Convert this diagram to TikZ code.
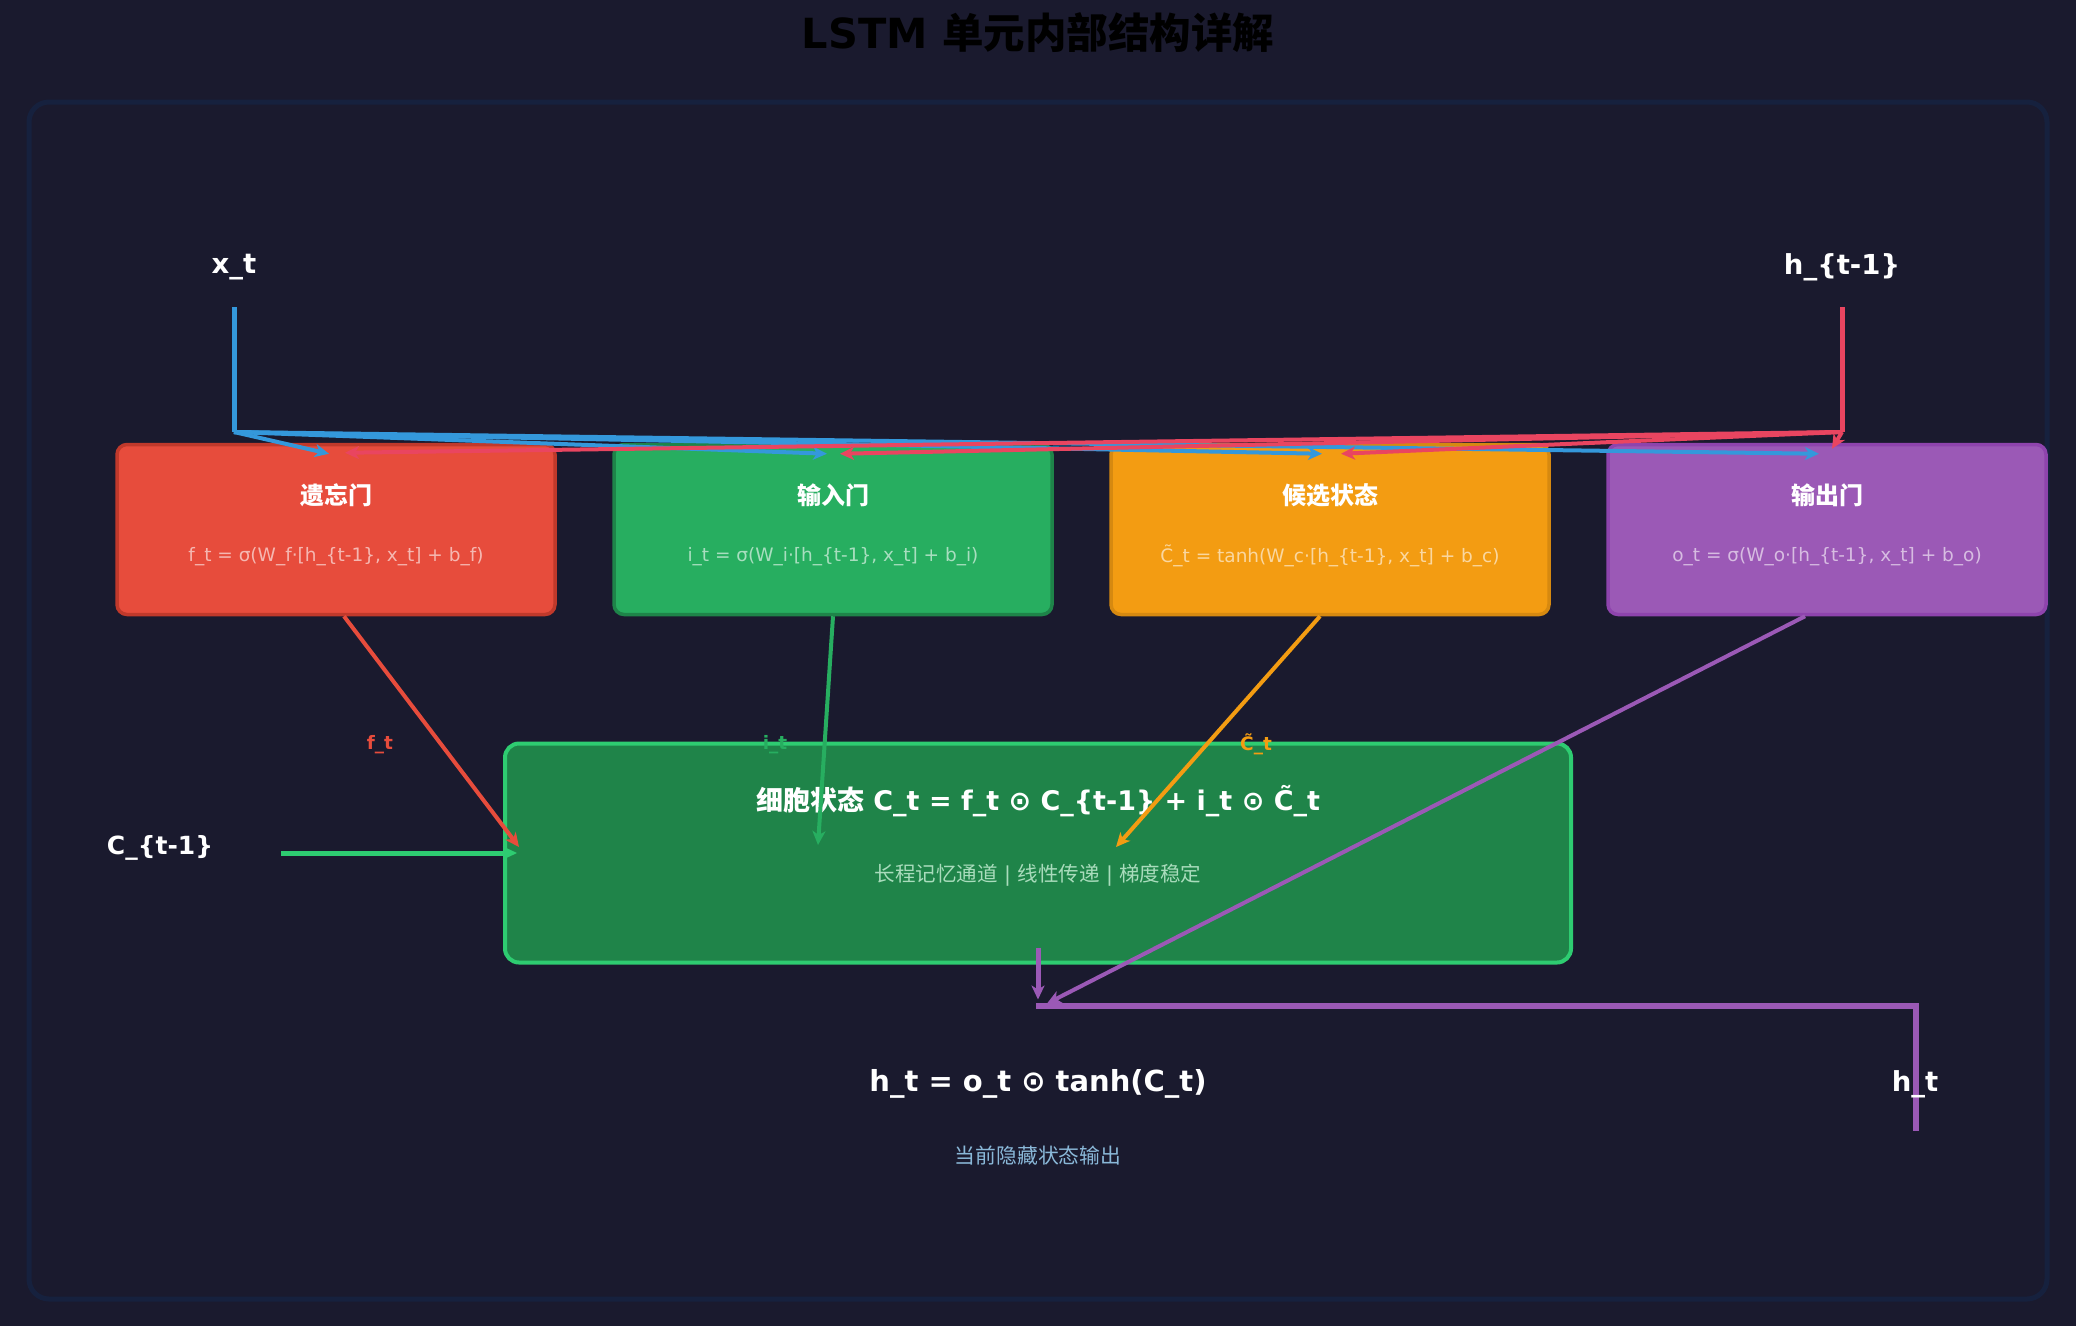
\documentclass[tikz,border=0pt]{standalone}
\usepackage{fontspec}
\setmainfont{DejaVu Sans}
\newfontfamily\cjk{Noto Sans CJK SC}
\usetikzlibrary{arrows.meta,calc}
\definecolor{bgc}{HTML}{1A1A2E}
\definecolor{framec}{HTML}{16213E}
\definecolor{xblue}{HTML}{3498DB}
\definecolor{hred}{HTML}{E94560}
\definecolor{fgfill}{HTML}{E74C3C}
\definecolor{fgline}{HTML}{C0392B}
\definecolor{igfill}{HTML}{27AE60}
\definecolor{igline}{HTML}{1E8449}
\definecolor{cgfill}{HTML}{F39C12}
\definecolor{cgline}{HTML}{D68910}
\definecolor{ogfill}{HTML}{9B59B6}
\definecolor{ogline}{HTML}{8E44AD}
\definecolor{cellfill}{HTML}{1F8449}
\definecolor{cellline}{HTML}{2ECC71}
\definecolor{cellsub}{HTML}{A9DCBC}
\definecolor{hsub}{HTML}{8AB8D8}
\tikzset{
  framebox/.style={draw=framec, line width=5pt, rounded corners=20pt},
  gatebox/.style={rectangle, rounded corners=10pt, line width=3.5pt, minimum width=438pt, minimum height=170pt, inner sep=0pt},
  cellbox/.style={rectangle, rounded corners=14pt, line width=4pt, fill=cellfill, draw=cellline, minimum width=1066pt, minimum height=219pt, inner sep=0pt},
  gtitle/.style={text=white, font=\fontsize{24}{28}\selectfont\bfseries\cjk, inner sep=0pt},
  gform/.style={text=white, text opacity=0.6, font=\fontsize{18.5}{22}\selectfont, inner sep=0pt},
  biglabel/.style={text=white, font=\fontsize{27.5}{32}\selectfont\bfseries, inner sep=0pt},
  smalllabel/.style={font=\fontsize{18.5}{22}\selectfont\bfseries, inner sep=0pt},
  tip/.style={-{Stealth[length=14pt,width=13pt,inset=4pt]}},
  distline/.style={line width=4pt, tip},
  gateout/.style={line width=4pt, tip},
}
\begin{document}
\begin{tikzpicture}[x=1pt,y=-1pt]
\useasboundingbox (0,0) rectangle (2076,1326);
\fill[bgc] (0,0) rectangle (2076,1326);
\draw[framebox] (29,102) rectangle (2047,1299);

\node[font=\fontsize{41.5}{48}\selectfont\bfseries, text=black, inner sep=0pt] (title) at (1038,33) {LSTM {\cjk 单元内部结构详解}};

% gates
\node[gatebox, fill=fgfill, draw=fgline] (fg) at (336,529.5) {};
\node[gatebox, fill=igfill, draw=igline] (ig) at (833,529.5) {};
\node[gatebox, fill=cgfill, draw=cgline] (cg) at (1330,529.5) {};
\node[gatebox, fill=ogfill, draw=ogline] (og) at (1827,529.5) {};
\node[gtitle] (fgt) at (336,495) {遗忘门};
\node[gtitle] (igt) at (833,495) {输入门};
\node[gtitle] (cgt) at (1330,495) {候选状态};
\node[gtitle] (ogt) at (1827,495) {输出门};
\node[gform] (fgf) at (336,557) {f\_t = σ(W\_f·[h\_\{t-1\}, x\_t] + b\_f)};
\node[gform] (igf) at (833,557) {i\_t = σ(W\_i·[h\_\{t-1\}, x\_t] + b\_i)};
\node[gform] (cgf) at (1330,556) {C̃\_t = tanh(W\_c·[h\_\{t-1\}, x\_t] + b\_c)};
\node[gform] (ogf) at (1827,557) {o\_t = σ(W\_o·[h\_\{t-1\}, x\_t] + b\_o)};

% cell state
\node[cellbox] (cell) at (1038,853) {};
\node[text=white, font=\fontsize{27}{31}\selectfont\bfseries, inner sep=0pt] (cellt) at (1038,801) {{\cjk 细胞状态} C\_t = f\_t ⊙ C\_\{t-1\} + i\_t ⊙ C̃\_t};
\node[text=cellsub, font=\fontsize{20.5}{24}\selectfont, inner sep=0pt] (cells) at (1038,875) {{\cjk 长程记忆通道} | {\cjk 线性传递} | {\cjk 梯度稳定}};

% gate output labels
\node[smalllabel, text=fgfill] (flab) at (380,745) {f\_t};
\node[smalllabel, text=igfill] (ilab) at (775,745) {i\_t};
\node[smalllabel, text=cgfill] (clab) at (1256,744) {C̃\_t};

% inputs
\node[biglabel] (xt) at (234,267) {x\_t};
\node[biglabel] (ht1) at (1842,267) {h\_\{t-1\}};
\node[biglabel, font=\fontsize{25}{30}\selectfont\bfseries] (cprev) at (160,848) {C\_\{t-1\}};
\coordinate (xtop) at (234,307);
\coordinate (xc) at (234,432);
\coordinate (htop) at (1842,307);
\coordinate (hc) at (1842,432);

\draw[xblue, line width=5pt] (xtop) -- (xc);
\draw[hred, line width=5pt] (htop) -- (hc);

\draw[distline, xblue] (xc) -- ($(fg.north)+(-7,11)$);
\draw[distline, xblue] (xc) -- ($(ig.north)+(-6,11)$);
\draw[distline, xblue] (xc) -- ($(cg.north)+(-8,11)$);
\draw[distline, xblue] (xc) -- ($(og.north)+(-8,11)$);
\draw[distline, hred] (hc) -- ($(fg.north)+(9,10)$);
\draw[distline, hred] (hc) -- ($(ig.north)+(7,11)$);
\draw[distline, hred] (hc) -- ($(cg.north)+(11,11)$);
\draw[distline, hred] (hc) -- ($(og.north)+(5,6)$);

% gate outputs to cell
\draw[gateout, fgfill] ($(fg.south)+(8,0)$) -- ($(cell.west)+(16,-6)$);
\draw[gateout, igfill] (ig.south) -- ($(cell.west)+(315,-8)$);
\draw[gateout, cgfill] ($(cg.south)+(-10,0)$) -- ($(cell.west)+(613,-6)$);

% C_{t-1} in
\draw[line width=5pt, cellline, tip] ($(cprev.east)+(68,5)$) -- ($(cell.west)+(14,0)$);

% output path
\coordinate (hj) at (1036,1006);
\coordinate (hend) at (1916,1131);
\draw[ogfill, line width=5pt, tip] ($(cell.south)+(0,-17)$) -- ($(cell.south)+(0,35)$);
\draw[gateout, ogfill] ($(og.south)+(-22,0)$) -- ($(cell.south)+(9,39)$);
\draw[ogfill, line width=6pt] (hj) -| (hend);

\node[biglabel] (ht) at (1915,1084) {h\_t};
\node[biglabel, font=\fontsize{29}{34}\selectfont\bfseries] (hform) at (1038,1084) {h\_t = o\_t ⊙ tanh(C\_t)};
\node[text=hsub, font=\fontsize{20.8}{24}\selectfont\cjk, inner sep=0pt] (hsubt) at (1038,1156) {当前隐藏状态输出};
\end{tikzpicture}
\end{document}
